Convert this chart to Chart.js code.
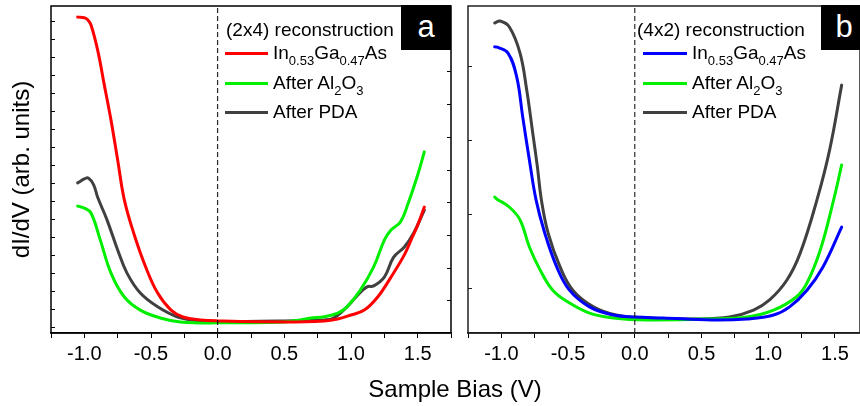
<!DOCTYPE html>
<html>
<head>
<meta charset="utf-8">
<script src="https://cdn.jsdelivr.net/npm/chart.js@4/dist/chart.umd.min.js"></script>
<style>
  body{margin:0;width:860px;height:406px;overflow:hidden;background:#fff;position:relative;font-family:'Liberation Sans',Arial,sans-serif;}
  canvas{position:absolute;top:0;}
  .t{position:absolute;font-size:19px;line-height:22px;color:#000;white-space:nowrap;}
  .s{font-size:13px;position:relative;top:6px;}
  .l{position:absolute;height:3px;}
  .box{position:absolute;background:#000;color:#fff;font-size:31px;text-align:center;top:5px;height:45px;line-height:44px;}
  .xt{position:absolute;left:305px;width:300px;top:375px;text-align:center;font-size:24px;line-height:28px;color:#000;}
</style>
</head>
<body>
<canvas id="cA" width="460" height="406" style="left:0"></canvas>
<canvas id="cB" width="400" height="406" style="left:460px"></canvas>

<div class="box" style="left:401px;width:50px;">a</div>
<div class="box" style="left:821px;width:46px;">b</div>

<div class="t" style="left:226px;top:19px;">(2x4) reconstruction</div>
<div class="l" style="left:225px;top:52px;width:43px;background:#ff0000"></div>
<div class="t" style="left:273px;top:42px;">In<span class="s">0.53</span>Ga<span class="s">0.47</span>As</div>
<div class="l" style="left:225px;top:82px;width:43px;background:#00ee00"></div>
<div class="t" style="left:273px;top:72px;">After Al<span class="s">2</span>O<span class="s">3</span></div>
<div class="l" style="left:225px;top:111px;width:43px;background:#404040"></div>
<div class="t" style="left:273px;top:101px;">After PDA</div>

<div class="t" style="left:637px;top:19px;">(4x2) reconstruction</div>
<div class="l" style="left:643px;top:52px;width:44px;background:#0000ff"></div>
<div class="t" style="left:692px;top:42px;">In<span class="s">0.53</span>Ga<span class="s">0.47</span>As</div>
<div class="l" style="left:643px;top:82px;width:44px;background:#00ee00"></div>
<div class="t" style="left:692px;top:72px;">After Al<span class="s">2</span>O<span class="s">3</span></div>
<div class="l" style="left:643px;top:111px;width:44px;background:#404040"></div>
<div class="t" style="left:692px;top:101px;">After PDA</div>

<div class="xt">Sample Bias (V)</div>

<script>
// ---------------- data (V, arb. units) ----------------
const biasRedA = [-1.05,-1.0,-0.975,-0.95,-0.9,-0.85,-0.8,-0.75,-0.7,-0.63,-0.54,-0.45,-0.35,-0.26,-0.13,0,0.5,0.8,0.9,1.0,1.1,1.2,1.3,1.4,1.45,1.5,1.55];
const didvRedA = [96.6,96.4,95.8,94.2,86.5,75.8,65.1,52.9,40.7,30.6,20.2,12.2,7.0,4.9,4.0,3.7,3.4,3.7,4.3,5.5,7.0,11.0,17.1,23.9,28.4,33.0,38.5];

const biasGreenA = [-1.05,-1.0,-0.95,-0.88,-0.8,-0.7,-0.58,-0.43,-0.28,0,0.5,0.6,0.7,0.8,0.9,0.97,1.07,1.17,1.25,1.3,1.37,1.43,1.5,1.55];
const didvGreenA = [38.8,38.2,36.7,28.4,18.3,11.0,7.0,4.6,3.4,3.1,3.4,3.9,4.6,5.0,6.1,8.0,13.1,20.2,28.4,31.5,33.9,39.8,48.3,55.4];

const biasGrayA = [-1.05,-1.0,-0.97,-0.93,-0.9,-0.83,-0.75,-0.68,-0.58,-0.45,-0.3,-0.13,0,0.5,0.8,0.87,0.97,1.05,1.12,1.17,1.25,1.32,1.4,1.47,1.55];
const didvGrayA = [45.9,47.1,47.4,45.3,41.5,34.6,25.4,18.3,12.2,8.0,4.9,3.7,3.5,3.7,4.0,4.6,8.0,11.6,14.1,14.4,17.1,23.2,26.3,30.6,37.6];

const biasBlueB = [-1.05,-1.03,-0.95,-0.885,-0.84,-0.79,-0.74,-0.675,-0.585,-0.49,-0.34,-0.16,0,0.21,0.58,0.84,1.04,1.16,1.29,1.41,1.55];
const didvBlueB = [87.5,87.4,85.6,78.3,66.1,52.9,40.7,30.6,20.2,13.1,8.0,5.5,4.9,4.6,4.0,4.3,5.5,8.0,13.1,20.2,32.4];

const biasGreenB = [-1.05,-1.035,-0.94,-0.86,-0.79,-0.71,-0.615,-0.49,-0.34,-0.16,0.09,0.58,0.84,1.04,1.21,1.29,1.39,1.49,1.55];
const didvGreenB = [41.6,41.0,38.5,34.6,26.3,19.3,13.1,9.2,6.1,4.6,4.0,4.3,4.9,7.0,11.0,15.3,25.4,40.7,51.4];

const biasGrayB = [-1.05,-1.01,-0.94,-0.86,-0.81,-0.765,-0.73,-0.7,-0.65,-0.56,-0.465,-0.31,-0.14,0.09,0.46,0.71,0.89,1.01,1.14,1.24,1.365,1.46,1.55];
const didvGrayB = [94.8,95.4,93.6,85.6,74.3,61.2,50.8,40.7,30.6,20.2,13.1,8.0,5.5,4.6,4.3,4.9,7.0,10.1,16.2,24.5,40.7,56.0,75.8];

const zeroLineX = [0, 0];
const zeroLineY = [0, 100];

const xTickValues = [-1.25,-1.0,-0.75,-0.5,-0.25,0,0.25,0.5,0.75,1.0,1.25,1.5,1.75];
const xMajorLabels = [-1.0,-0.5,0.0,0.5,1.0,1.5];

const yTicksALeft = [1.9,7.4,12.9,18.4,23.9,29.4,34.9,40.4,45.9,51.4,56.9,62.4,67.9,73.4,78.9,84.4,89.9,95.4];
const yTicksARight = [10,20,30,40,50,60,70,80,90];
const yTicksBLeft = [13.9,36.5,59.1,81.7];

// ---------------- helpers ----------------
Chart.defaults.font.family = "'Liberation Sans', Arial, sans-serif";
Chart.defaults.color = '#000';

const pts = (xs, ys) => xs.map((x, i) => ({x: x, y: ys[i]}));

function series(xs, ys, color) {
  return {data: pts(xs, ys), borderColor: color, borderWidth: 3, pointRadius: 0,
          tension: 0.4, fill: false, borderCapStyle: 'round', borderJoinStyle: 'round'};
}
function zeroLine() {
  return {data: pts(zeroLineX, zeroLineY), borderColor: '#000', borderWidth: 1,
          borderDash: [5, 3], pointRadius: 0, fill: false, tension: 0};
}

const framePlugin = {
  id: 'frame',
  afterDatasetsDraw(chart, args, opts) {
    const {ctx, chartArea: a} = chart;
    const y = chart.scales.y;
    ctx.save();
    ctx.strokeStyle = opts.color || '#000';
    ctx.lineWidth = 1.5;
    ctx.strokeRect(a.left, a.top, a.right - a.left, a.bottom - a.top);
    ctx.lineWidth = 1;
    (opts.leftTicks || []).forEach(v => {
      const py = Math.round(y.getPixelForValue(v)) + 0.5;
      ctx.beginPath(); ctx.moveTo(a.left, py); ctx.lineTo(a.left + 4, py); ctx.stroke();
    });
    (opts.rightTicks || []).forEach(v => {
      const py = Math.round(y.getPixelForValue(v)) + 0.5;
      ctx.beginPath(); ctx.moveTo(a.right, py); ctx.lineTo(a.right - 4, py); ctx.stroke();
    });
    ctx.restore();
  }
};

function makeChart(id, datasets, opt) {
  return new Chart(document.getElementById(id), {
    type: 'line',
    data: {datasets: datasets},
    options: {
      responsive: false,
      animation: false,
      layout: {padding: {top: 6, right: opt.padRight, left: 0, bottom: 0}},
      plugins: {legend: {display: false}, tooltip: {enabled: false},
                frame: {leftTicks: opt.leftTicks, rightTicks: opt.rightTicks, color: opt.frameColor}},
      scales: {
        x: {
          type: 'linear', min: -1.25, max: opt.xmax,
          afterBuildTicks: s => { s.ticks = xTickValues.filter(v => v <= opt.xmax + 1e-9).map(v => ({value: v})); },
          afterFit: s => { s.height = 73; },
          ticks: {
            autoSkip: false, maxRotation: 0, padding: 4,
            font: {size: 20}, color: '#000',
            callback: v => xMajorLabels.some(m => Math.abs(m - v) < 1e-6) ? v.toFixed(1) : ''
          },
          grid: {display: true, drawOnChartArea: false, drawTicks: true, tickLength: 5, color: '#000', lineWidth: 1},
          border: {display: true, color: '#000', width: 1.5}
        },
        y: {
          type: 'linear', min: 0, max: 100,
          afterFit: s => { s.width = opt.yWidth; },
          ticks: {display: false},
          grid: {display: false},
          border: {display: false},
          title: opt.yTitle ? {display: true, text: 'dI/dV (arb. units)', font: {size: 24}, color: '#000', padding: {top: 8, bottom: 0}} : {display: false}
        }
      }
    },
    plugins: [framePlugin]
  });
}

makeChart('cA', [
  zeroLine(),
  series(biasRedA, didvRedA, '#ff0000'),
  series(biasGreenA, didvGreenA, '#00ee00'),
  series(biasGrayA, didvGrayA, '#404040')
], {padRight: 9, xmax: 1.75, yWidth: 51, yTitle: true, leftTicks: yTicksALeft, rightTicks: yTicksARight, frameColor: '#000'});

makeChart('cB', [
  zeroLine(),
  series(biasBlueB, didvBlueB, '#0000ff'),
  series(biasGreenB, didvGreenB, '#00ee00'),
  series(biasGrayB, didvGrayB, '#404040')
], {padRight: 0, xmax: 1.6875, yWidth: 8, yTitle: false, leftTicks: yTicksBLeft, rightTicks: [], frameColor: '#222'});
</script>
</body>
</html>
